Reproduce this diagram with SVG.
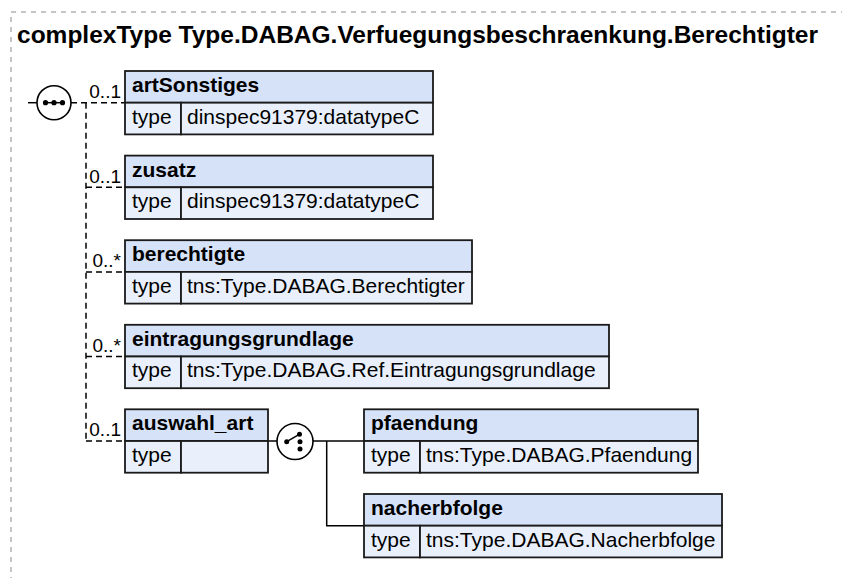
<svg xmlns="http://www.w3.org/2000/svg" width="842" height="578" viewBox="0 0 842 578">
<style>
.bg{fill:#ffffff}
.frame{fill:none;stroke:#8c8c8c;stroke-width:1;stroke-dasharray:5,5}
.title{font-family:"Liberation Sans",Arial,sans-serif;font-weight:bold;font-size:24.5px;fill:#000}
.hdr{fill:#d6e2f8;stroke:#1a1a1a;stroke-width:1.8}
.row{fill:#e9f0fc;stroke:#1a1a1a;stroke-width:1.8}
.name{font-family:"Liberation Sans",Arial,sans-serif;font-weight:bold;font-size:21px;fill:#000}
.val{font-family:"Liberation Sans",Arial,sans-serif;font-size:21px;fill:#000}
.card{font-family:"Liberation Sans",Arial,sans-serif;font-size:19px;fill:#000;text-anchor:end}
.dash{fill:none;stroke:#000;stroke-width:1.5;stroke-dasharray:6,4}
.solid{fill:none;stroke:#000;stroke-width:1.5}
.comp{fill:#fff;stroke:#000;stroke-width:1.6}
.dot{fill:#000}
</style>
<rect class="bg" x="0" y="0" width="842" height="578"/>
<rect class="frame" x="11" y="12" width="900" height="700"/>
<text class="title" x="17" y="43">complexType Type.DABAG.Verfuegungsbeschraenkung.Berechtigter</text>

<g id="connectors">
  <line class="solid" x1="28" y1="102.7" x2="37" y2="102.7"/>
  <path class="dash" d="M71,102.7 H125"/>
  <path class="dash" d="M86,102.7 V441"/>
  <path class="dash" d="M86,187.3 H125"/>
  <path class="dash" d="M86,271.9 H125"/>
  <path class="dash" d="M86,356.5 H125"/>
  <path class="dash" d="M86,441 H125"/>
  <line class="solid" x1="268" y1="441" x2="277" y2="441"/>
  <path class="solid" d="M313,441 H364"/>
  <path class="solid" d="M326.7,441 V525.7 H364"/>
  <text class="card" x="121" y="98">0..1</text>
  <text class="card" x="121" y="182.5">0..1</text>
  <text class="card" x="121" y="267">0..*</text>
  <text class="card" x="121" y="351.5">0..*</text>
  <text class="card" x="121" y="436">0..1</text>
</g>

<g id="sequence">
  <circle class="comp" cx="54" cy="102.7" r="17"/>
  <line class="solid" x1="44" y1="102.7" x2="64" y2="102.7"/>
  <circle class="dot" cx="45.5" cy="102.7" r="2.6"/>
  <circle class="dot" cx="54" cy="102.7" r="2.6"/>
  <circle class="dot" cx="62.5" cy="102.7" r="2.6"/>
</g>

<g id="artSonstiges">
  <rect class="hdr" x="125" y="71" width="308" height="31.7"/>
  <rect class="row" x="125" y="102.7" width="56" height="31.7"/>
  <rect class="row" x="181" y="102.7" width="252" height="31.7"/>
  <text class="name" x="132" y="92">artSonstiges</text>
  <text class="val" x="132" y="123.5">type</text>
  <text class="val" x="187" y="123.5">dinspec91379:datatypeC</text>
</g>

<g id="zusatz">
  <rect class="hdr" x="125" y="155.6" width="308" height="31.7"/>
  <rect class="row" x="125" y="187.3" width="56" height="31.7"/>
  <rect class="row" x="181" y="187.3" width="252" height="31.7"/>
  <text class="name" x="132" y="176.6">zusatz</text>
  <text class="val" x="132" y="208.1">type</text>
  <text class="val" x="187" y="208.1">dinspec91379:datatypeC</text>
</g>

<g id="berechtigte">
  <rect class="hdr" x="125" y="240.2" width="347" height="31.7"/>
  <rect class="row" x="125" y="271.9" width="56" height="31.7"/>
  <rect class="row" x="181" y="271.9" width="291" height="31.7"/>
  <text class="name" x="132" y="261.2">berechtigte</text>
  <text class="val" x="132" y="292.7">type</text>
  <text class="val" x="187" y="292.7">tns:Type.DABAG.Berechtigter</text>
</g>

<g id="eintragungsgrundlage">
  <rect class="hdr" x="125" y="324.8" width="484" height="31.7"/>
  <rect class="row" x="125" y="356.5" width="56" height="31.7"/>
  <rect class="row" x="181" y="356.5" width="428" height="31.7"/>
  <text class="name" x="132" y="345.8">eintragungsgrundlage</text>
  <text class="val" x="132" y="377.3">type</text>
  <text class="val" x="187" y="377.3">tns:Type.DABAG.Ref.Eintragungsgrundlage</text>
</g>

<g id="auswahl_art">
  <rect class="hdr" x="125" y="409.3" width="143" height="31.7"/>
  <rect class="row" x="125" y="441" width="56" height="31.7"/>
  <rect class="row" x="181" y="441" width="87" height="31.7"/>
  <text class="name" x="132" y="430.3">auswahl_art</text>
  <text class="val" x="132" y="461.8">type</text>
</g>

<g id="choice">
  <circle class="comp" cx="295" cy="441.5" r="18"/>
  <line class="solid" x1="286.7" y1="441.7" x2="299.3" y2="434.3"/>
  <circle class="dot" cx="286.7" cy="441.7" r="2.5"/>
  <circle class="dot" cx="299.5" cy="434.3" r="2.5"/>
  <circle class="dot" cx="300" cy="441.7" r="2.5"/>
  <circle class="dot" cx="300" cy="449" r="2.5"/>
</g>

<g id="pfaendung">
  <rect class="hdr" x="364" y="409.3" width="334" height="31.7"/>
  <rect class="row" x="364" y="441" width="56" height="31.7"/>
  <rect class="row" x="420" y="441" width="278" height="31.7"/>
  <text class="name" x="371" y="430.3">pfaendung</text>
  <text class="val" x="371" y="461.8">type</text>
  <text class="val" x="426" y="461.8">tns:Type.DABAG.Pfaendung</text>
</g>

<g id="nacherbfolge">
  <rect class="hdr" x="364" y="494" width="358" height="31.7"/>
  <rect class="row" x="364" y="525.7" width="56" height="31.7"/>
  <rect class="row" x="420" y="525.7" width="302" height="31.7"/>
  <text class="name" x="371" y="515">nacherbfolge</text>
  <text class="val" x="371" y="546.5">type</text>
  <text class="val" x="426" y="546.5">tns:Type.DABAG.Nacherbfolge</text>
</g>
</svg>
